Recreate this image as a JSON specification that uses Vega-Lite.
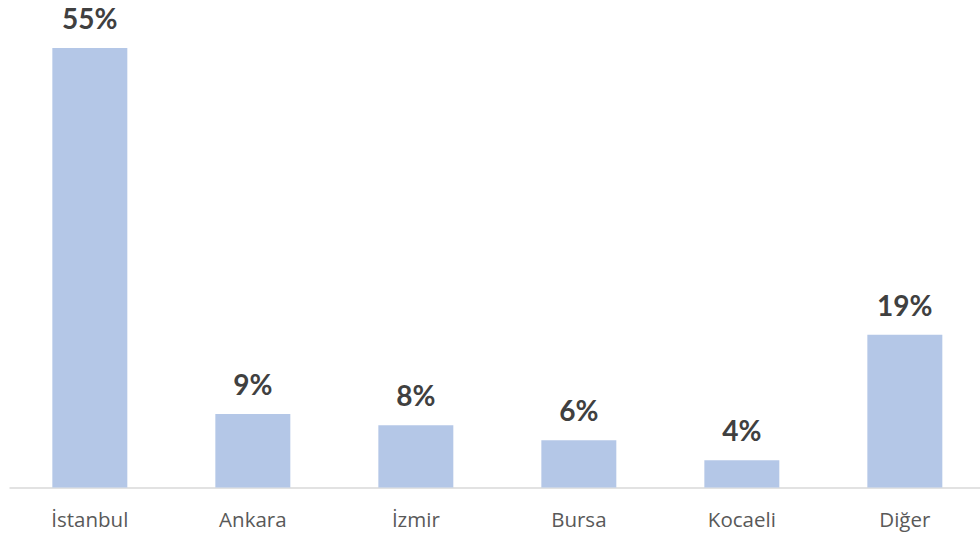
{
  "$schema": "https://vega.github.io/schema/vega-lite/v6.json",
  "autosize": {"type": "none"},
  "width": 971,
  "height": 439.5,
  "padding": {"left": 9, "top": 48, "right": 0, "bottom": 45.5},
  "background": "#ffffff",
  "config": {"view": {"stroke": null}},
  "data": {
    "values": [
      {"city": "İstanbul", "value": 55, "label": "55%"},
      {"city": "Ankara", "value": 9.2, "label": "9%"},
      {"city": "İzmir", "value": 7.8, "label": "8%"},
      {"city": "Bursa", "value": 5.9, "label": "6%"},
      {"city": "Kocaeli", "value": 3.4, "label": "4%"},
      {"city": "Diğer", "value": 19.1, "label": "19%"}
    ]
  },
  "encoding": {
    "x": {
      "field": "city",
      "type": "nominal",
      "sort": null,
      "scale": {"paddingInner": 0.54, "paddingOuter": 0.2485, "align": 0.535},
      "axis": {
        "title": null,
        "labelAngle": 0,
        "ticks": false,
        "tickSize": 0,
        "labelPadding": 39,
        "labelBaseline": "alphabetic",
        "labelFont": "Open Sans",
        "labelFontSize": 20.5,
        "labelColor": "#595959",
        "domainColor": "#d9d9d9",
        "domainWidth": 1.5,
        "grid": false
      }
    },
    "y": {
      "field": "value",
      "type": "quantitative",
      "scale": {"domain": [0, 55], "nice": false},
      "axis": null
    }
  },
  "layer": [
    {"mark": {"type": "bar", "color": "#b4c7e7"}},
    {
      "mark": {
        "type": "text",
        "baseline": "alphabetic",
        "dy": -19,
        "font": "Lato",
        "fontSize": 28,
        "fontWeight": "bold",
        "color": "#404040"
      },
      "encoding": {"text": {"field": "label"}}
    }
  ]
}
